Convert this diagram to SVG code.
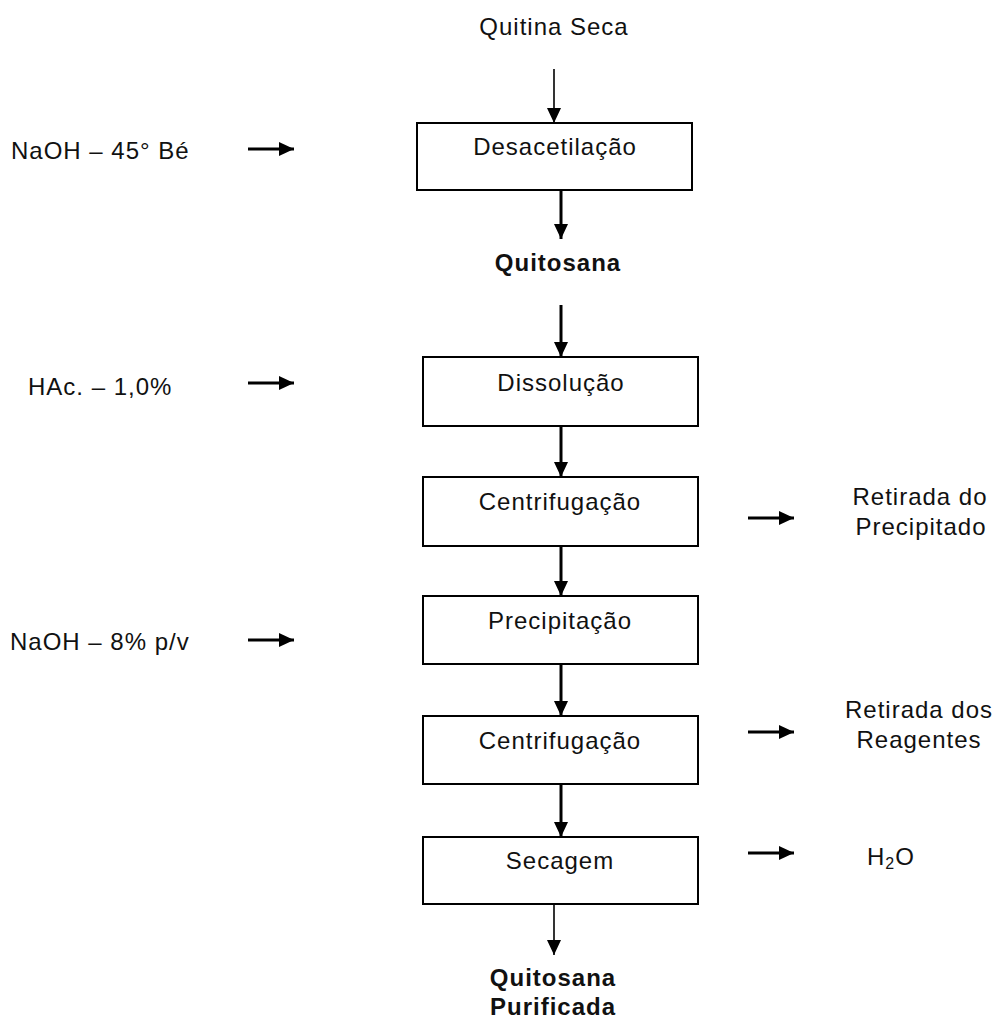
<svg xmlns="http://www.w3.org/2000/svg" width="997" height="1018" viewBox="0 0 997 1018">
<defs>
<marker id="ah" markerUnits="userSpaceOnUse" markerWidth="15" markerHeight="14" refX="15" refY="7" orient="auto"><path d="M0,0 L15,7 L0,14 z" fill="#000"/></marker>
</defs>
<style>
text{font-family:"Liberation Sans",Arial,sans-serif;font-size:24px;letter-spacing:1px;fill:#111}
.b{font-weight:bold}
.m{text-anchor:middle}
.box{fill:#fff;stroke:#000;stroke-width:2}
.thick{stroke:#000;stroke-width:3;fill:none}
.thin{stroke:#000;stroke-width:1.6;fill:none}
</style>
<rect width="997" height="1018" fill="#fff"/>
<g id="connectors">
<line class="thin" x1="554" y1="69" x2="554" y2="123" marker-end="url(#ah)"/>
<line class="thick" x1="561" y1="186" x2="561" y2="239" marker-end="url(#ah)"/>
<line class="thick" x1="561" y1="305" x2="561" y2="357" marker-end="url(#ah)"/>
<line class="thick" x1="561" y1="426" x2="561" y2="477" marker-end="url(#ah)"/>
<line class="thick" x1="561" y1="546" x2="561" y2="596" marker-end="url(#ah)"/>
<line class="thick" x1="561" y1="664" x2="561" y2="716" marker-end="url(#ah)"/>
<line class="thick" x1="561" y1="784" x2="561" y2="837" marker-end="url(#ah)"/>
<line class="thin" x1="554" y1="904" x2="554" y2="955" marker-end="url(#ah)"/>
<line class="thick" x1="248" y1="149" x2="294" y2="149" marker-end="url(#ah)"/>
<line class="thick" x1="248" y1="383" x2="294" y2="383" marker-end="url(#ah)"/>
<line class="thick" x1="248" y1="640" x2="294" y2="640" marker-end="url(#ah)"/>
<line class="thick" x1="748" y1="518" x2="794" y2="518" marker-end="url(#ah)"/>
<line class="thick" x1="748" y1="732" x2="794" y2="732" marker-end="url(#ah)"/>
<line class="thick" x1="748" y1="853" x2="794" y2="853" marker-end="url(#ah)"/>
</g>
<g id="quitina-seca"><text class="m" x="554" y="35">Quitina Seca</text></g>
<g id="desacetilacao"><rect class="box" x="417" y="123" width="275" height="67"/><text class="m" x="555" y="155">Desacetilação</text></g>
<g id="quitosana"><text class="m b" x="558" y="271">Quitosana</text></g>
<g id="dissolucao"><rect class="box" x="423" y="357" width="275" height="69"/><text class="m" x="561" y="391">Dissolução</text></g>
<g id="centrifugacao1"><rect class="box" x="423" y="477" width="275" height="69"/><text class="m" x="560" y="510">Centrifugação</text></g>
<g id="precipitacao"><rect class="box" x="423" y="596" width="275" height="68"/><text class="m" x="560" y="629">Precipitação</text></g>
<g id="centrifugacao2"><rect class="box" x="423" y="716" width="275" height="68"/><text class="m" x="560" y="749">Centrifugação</text></g>
<g id="secagem"><rect class="box" x="423" y="837" width="275" height="67"/><text class="m" x="560" y="869">Secagem</text></g>
<g id="quitosana-purificada"><text class="m b" x="553" y="986">Quitosana</text><text class="m b" x="553" y="1015">Purificada</text></g>
<g id="naoh45"><text x="11" y="159">NaOH – 45° Bé</text></g>
<g id="hac"><text x="28" y="395">HAc. – 1,0%</text></g>
<g id="naoh8"><text x="10" y="650">NaOH – 8% p/v</text></g>
<g id="retirada-precipitado"><text class="m" x="920" y="505">Retirada do</text><text class="m" x="921" y="535">Precipitado</text></g>
<g id="retirada-reagentes"><text class="m" x="919" y="718">Retirada dos</text><text class="m" x="919" y="748">Reagentes</text></g>
<g id="h2o"><text x="867" y="865">H<tspan font-size="16" dy="4">2</tspan><tspan dy="-4">O</tspan></text></g>
</svg>
